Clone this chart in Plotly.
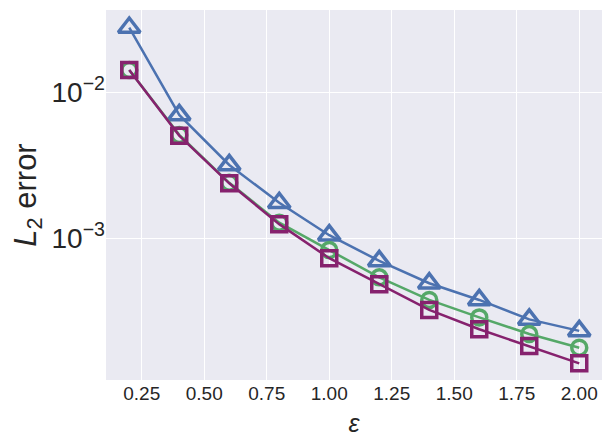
import plotly.graph_objects as go

eps = [0.2, 0.4, 0.6, 0.8, 1.0, 1.2, 1.4, 1.6, 1.8, 2.0]
err_tri = [0.0278, 0.0070, 0.00318, 0.00175, 0.00105, 7.0e-4, 4.92e-4, 3.78e-4, 2.78e-4, 2.32e-4]
err_circ = [0.01422, 0.00511, 0.00240, 0.00128, 8.3e-4, 5.4e-4, 3.78e-4, 2.87e-4, 2.21e-4, 1.78e-4]
err_sq = [0.01422, 0.00505, 0.00238, 0.00125, 7.3e-4, 4.84e-4, 3.23e-4, 2.38e-4, 1.83e-4, 1.39e-4]

y_ticks = [1e-3, 1e-2]
y_ticktext = ["10<sup>\u22123</sup>", "10<sup>\u22122</sup>"]
x_ticks = [0.25, 0.5, 0.75, 1.0, 1.25, 1.5, 1.75, 2.0]
x_ticktext = ["0.25", "0.50", "0.75", "1.00", "1.25", "1.50", "1.75", "2.00"]

series = [
    (err_tri, "#4C72B0", "triangle-up-open", 19),
    (err_circ, "#55A868", "circle-open", 15),
    (err_sq, "#86226E", "square-open", 15),
]

fig = go.Figure()
for ys, col, sym, sz in series:
    fig.add_trace(go.Scatter(
        x=eps, y=ys, mode="lines+markers",
        line=dict(color=col, width=2.5),
        marker=dict(symbol=sym, size=sz, color=col, line=dict(color=col, width=3.5)),
        showlegend=False,
    ))

# page body has an 8px margin, so size is trimmed to fit the 611x445 window
fig.update_layout(
    width=603, height=437,
    margin=dict(l=98, r=9, t=2, b=65),
    paper_bgcolor="white",
    plot_bgcolor="#EAEAF2",
    font=dict(family="Liberation Sans, Arial, sans-serif", color="#262626"),
)
fig.update_xaxes(
    range=[0.107, 2.091],
    tickvals=x_ticks, ticktext=x_ticktext,
    tickfont=dict(size=19),
    gridcolor="white", gridwidth=1.2, zeroline=False, showline=False,
    ticks="", ticklen=0,
    title=dict(text="<i>\u03b5</i>", font=dict(size=25), standoff=11),
)
fig.update_yaxes(
    type="log", range=[-3.971, -1.436],
    tickvals=y_ticks, ticktext=y_ticktext,
    tickfont=dict(size=28),
    gridcolor="white", gridwidth=1.2, zeroline=False, showline=False,
    ticks="", ticklen=0, automargin=False,
    title=dict(text="<i>L</i><sub>2</sub> error", font=dict(size=31), standoff=22),
)

fig.write_html("out.html")
